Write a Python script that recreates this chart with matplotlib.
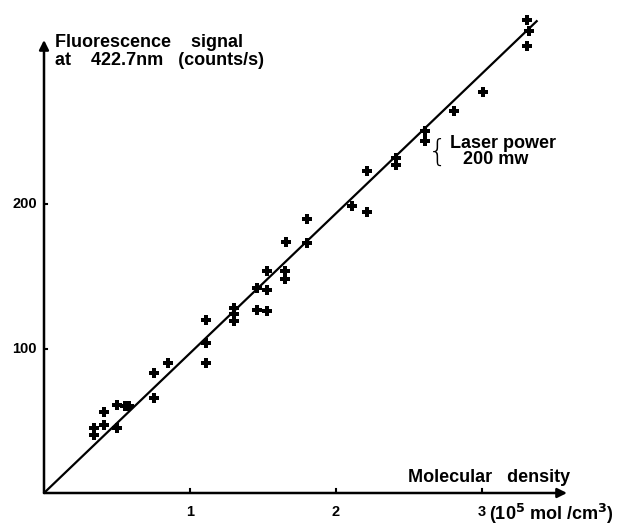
import matplotlib
matplotlib.use("Agg")
import matplotlib.pyplot as plt

# measured points (molecular density in 1e5 mol/cm3, counts/s)
density = [0.34, 0.34, 0.41, 0.41, 0.50, 0.50, 0.555, 0.584, 0.75, 0.75,
           0.85, 1.11, 1.11, 1.11, 1.30, 1.30, 1.30, 1.46, 1.46, 1.53,
           1.53, 1.53, 1.65, 1.65, 1.66, 1.80, 1.80, 2.11, 2.21, 2.21,
           2.41, 2.41, 2.61, 2.61, 2.81, 3.01, 3.31, 3.32, 3.31]
signal = [45, 40, 56, 47, 61, 45, 60, 60, 66, 83,
          90, 120, 104, 90, 128, 124, 119, 142, 127, 154,
          141, 126, 154, 148, 174, 190, 173, 199, 223, 195,
          232, 227, 251, 244, 265, 278, 328, 320, 310]

# fitted straight line
fit_x = [0, 3.38]
fit_y = [0, 327.5]

xticks = [1, 2, 3]
yticks = [100, 200]

W, H = 628, 525
fig = plt.figure(figsize=(W / 100, H / 100), dpi=100)
ax = fig.add_axes([44 / W, 32 / H, (620 - 44) / W, (493 - 5) / H])
ax.set_xlim(0, 576 / 146)
ax.set_ylim(0, 488 / 1.443)
ax.axis("off")

fnt = "Liberation Sans"

ax.plot(fit_x, fit_y, color="black", lw=1.6, solid_capstyle="butt", clip_on=False)
ax.plot(density, signal, "P", color="black", ms=7, mew=0, clip_on=False)

# axes with arrows
ax.annotate("", xy=((567 - 44) / 146, 0), xytext=(0, 0),
            arrowprops=dict(arrowstyle="-|>", color="black", lw=1.8,
                            mutation_scale=14, shrinkA=0, shrinkB=0))
ax.annotate("", xy=(0, (493 - 40) / 1.443), xytext=(0, 0),
            arrowprops=dict(arrowstyle="-|>", color="black", lw=1.8,
                            mutation_scale=14, shrinkA=0, shrinkB=0))

# ticks
for t in xticks:
    ax.plot([t, t], [0, 3], color="black", lw=1.5)
    ax.text(t, -8, str(t), ha="center", va="top", fontsize=10.5,
            fontweight="bold", family=fnt)
for t in yticks:
    ax.plot([0, 0.02], [t, t], color="black", lw=1.5)
    ax.text(-0.05, t, str(t), ha="right", va="center", fontsize=10.5,
            fontweight="bold", family=fnt)


def ftext(x, y, s, **kw):
    fig.text(x / W, 1 - y / H, s, fontweight="bold", family=fnt, **kw)


ftext(55, 47, "Fluorescence    signal", fontsize=13, va="baseline")
ftext(55, 65, "at    422.7nm   (counts/s)", fontsize=13, va="baseline")
ftext(408, 477, "Molecular   density", fontsize=13, va="center")
ftext(489, 520, r"(10$^{\mathbf{5}}$ mol /cm$^{\mathbf{3}}$)", fontsize=13, va="baseline")
ftext(450, 143, "Laser power", fontsize=13, va="center")
ftext(463, 160, "200 mw", fontsize=13, va="center")
fig.text(447 / W, 1 - 152 / H, "{", fontsize=22, family="DejaVu Sans",
         fontweight="light", va="center", ha="right")

fig.savefig("out.png", dpi=100)
